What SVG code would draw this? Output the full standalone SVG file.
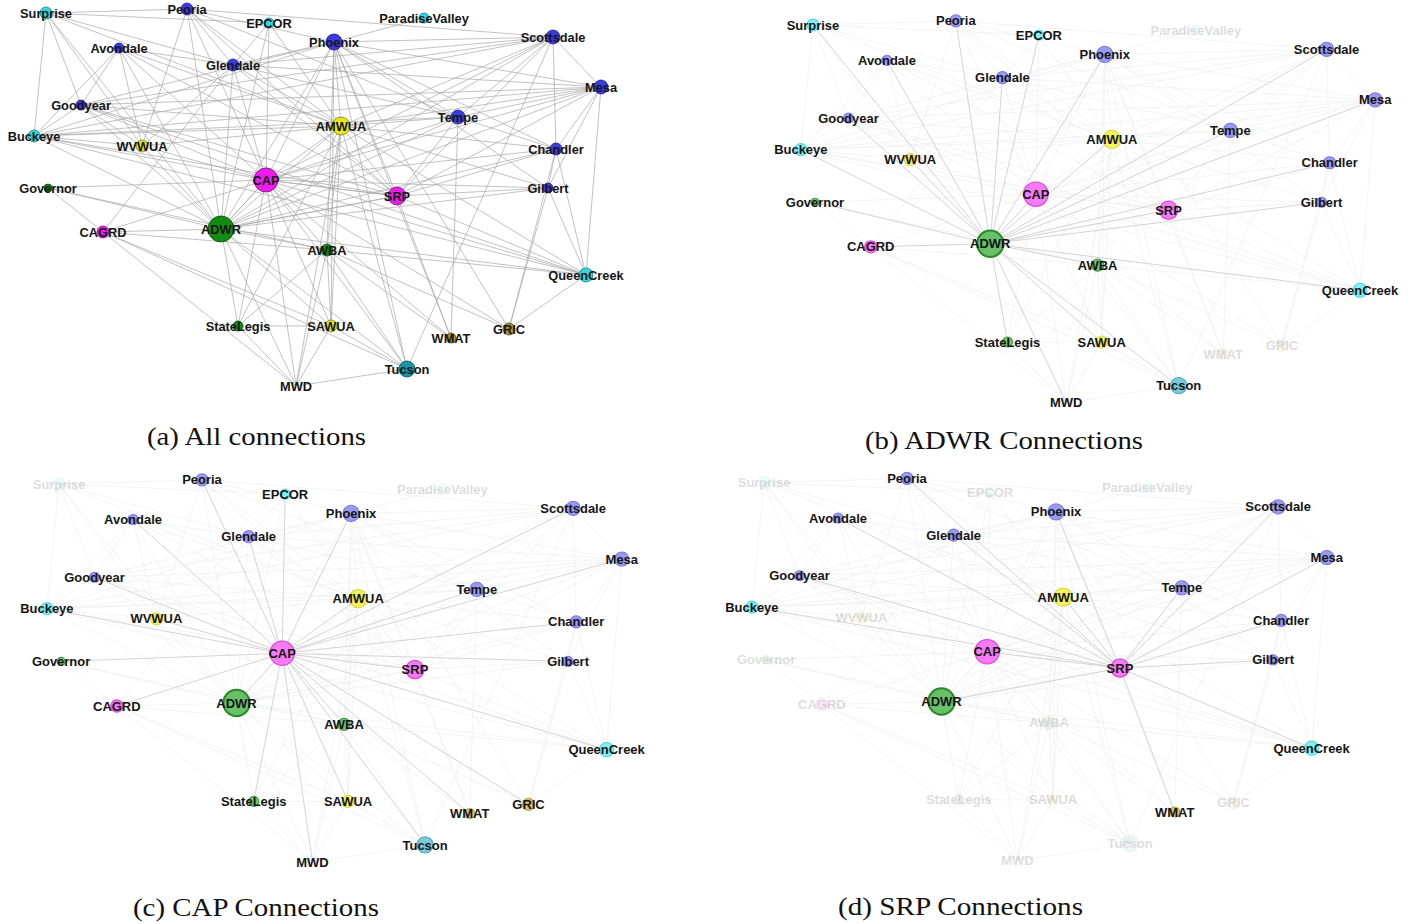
<svg xmlns="http://www.w3.org/2000/svg" xmlns:xlink="http://www.w3.org/1999/xlink" width="1411" height="924" viewBox="0 0 1411 924">
<style>
.lbl{font-family:"Liberation Sans",Arial,sans-serif;font-weight:bold;font-size:12.8px;text-anchor:middle;fill:#151515}
.capt{font-family:"Liberation Serif","Times New Roman",serif;font-size:25px;fill:#111}
.a-cy{fill:#2fd6df;stroke:#167c84;stroke-width:0.8}
.a-bl{fill:#3b3be0;stroke:#1e1e88;stroke-width:0.8}
.a-ye{fill:#e6e617;stroke:#7e7e10;stroke-width:0.8}
.a-mg{fill:#ec1cec;stroke:#7e107e;stroke-width:0.8}
.a-gr{fill:#128c12;stroke:#0a4a0a;stroke-width:0.8}
.a-ol{fill:#a8902e;stroke:#5a4a10;stroke-width:0.8}
.a-te{fill:#1897a8;stroke:#0b5560;stroke-width:0.8}
.p-cy{fill:#80eff3;stroke:#4fd6de;stroke-width:1}
.p-bl{fill:#9a9af2;stroke:#7777de;stroke-width:1}
.p-ye{fill:#f2f25a;stroke:#d6d640;stroke-width:1}
.p-mg{fill:#f57cf5;stroke:#e044e0;stroke-width:1.2}
.p-gr{fill:#72c472;stroke:#3a9a3a;stroke-width:1}
.p-ol{fill:#d8c070;stroke:#b8a050;stroke-width:1}
.p-te{fill:#7ccad8;stroke:#4aa8b8;stroke-width:1}
.p-gr-big{fill:#68c068;stroke:#2a8a2a;stroke-width:2}
.fd{opacity:0.14}
.e-all{stroke:#a8a8a8;stroke-width:0.7}
.e-faint{stroke:#f0f0f0;stroke-width:0.7}
.e-hi{stroke:#d0d0d0;stroke-width:0.9}
</style>
<defs>
<path id="e-other" fill="none" d="M46 13L187 9M46 13L269 23M46 13L34 136M46 13L142 146M46 13L341 126M46 13L233 65M46 13L81 105M187 9L233 65M187 9L334 42M187 9L341 126M187 9L142 146M187 9L458 117M187 9L553 37M119 48L81 105M119 48L34 136M119 48L142 146M119 48L341 126M119 48L233 65M233 65L269 23M233 65L334 42M233 65L341 126M233 65L142 146M233 65L553 37M233 65L458 117M233 65L601 87M334 42L424 18M334 42L553 37M334 42L601 87M334 42L458 117M334 42L341 126M334 42L556 149M334 42L548 188M334 42L327 250M334 42L331 326M334 42L407 369M334 42L81 105M334 42L34 136M334 42L509 329M334 42L451 338M553 37L601 87M553 37L458 117M553 37L341 126M553 37L556 149M553 37L407 369M553 37L81 105M553 37L34 136M601 87L458 117M601 87L556 149M601 87L548 188M601 87L586 275M601 87L341 126M601 87L34 136M601 87L81 105M458 117L556 149M458 117L341 126M458 117L451 338M458 117L34 136M556 149L548 188M556 149L586 275M556 149L509 329M556 149L341 126M548 188L586 275M548 188L509 329M548 188L341 126M586 275L509 329M586 275L327 250M586 275L341 126M586 275L81 105M586 275L34 136M34 136L142 146M34 136L81 105M34 136L341 126M81 105L341 126M81 105L142 146M142 146L341 126M48 188L103 232M48 188L327 250M103 232L327 250M103 232L407 369M103 232L331 326M103 232L296 386M103 232L233 65M327 250L331 326M327 250L407 369M327 250L296 386M327 250L509 329M327 250L238 326M327 250L451 338M327 250L341 126M238 326L331 326M238 326L296 386M238 326L341 126M331 326L407 369M331 326L296 386M331 326L341 126M296 386L407 369M296 386L341 126M407 369L341 126M269 23L341 126"/>
<path id="e-adwr" fill="none" d="M221 229L46 13M221 229L187 9M221 229L269 23M221 229L119 48M221 229L233 65M221 229L334 42M221 229L553 37M221 229L601 87M221 229L81 105M221 229L34 136M221 229L142 146M221 229L341 126M221 229L458 117M221 229L556 149M221 229L266 180M221 229L48 188M221 229L397 196M221 229L548 188M221 229L103 232M221 229L327 250M221 229L586 275M221 229L238 326M221 229L331 326M221 229L296 386M221 229L407 369"/>
<path id="e-cap" fill="none" d="M266 180L187 9M266 180L269 23M266 180L334 42M266 180L553 37M266 180L119 48M266 180L233 65M266 180L601 87M266 180L81 105M266 180L341 126M266 180L458 117M266 180L34 136M266 180L142 146M266 180L556 149M266 180L48 188M266 180L397 196M266 180L548 188M266 180L103 232M266 180L327 250M266 180L586 275M266 180L238 326M266 180L331 326M266 180L451 338M266 180L509 329M266 180L296 386M266 180L407 369M266 180L221 229"/>
<path id="e-srp" fill="none" d="M397 196L187 9M397 196L119 48M397 196L233 65M397 196L334 42M397 196L553 37M397 196L601 87M397 196L81 105M397 196L341 126M397 196L458 117M397 196L34 136M397 196L556 149M397 196L548 188M397 196L586 275M397 196L451 338M397 196L266 180M397 196L221 229"/>
</defs>
<rect width="1411" height="924" fill="#ffffff"/>

<!-- Panel (a) -->
<g id="panel-a">
<g id="a-connectors" class="e-all">
<use xlink:href="#e-other"/><use xlink:href="#e-adwr"/><use xlink:href="#e-cap"/><use xlink:href="#e-srp"/>
</g>
<g id="a-nodes">
<g id="a-Surprise"><circle class="a-cy" cx="46" cy="13" r="6"/><text class="lbl" x="46" y="17.5">Surprise</text></g>
<g id="a-Peoria"><circle class="a-bl" cx="187" cy="9" r="6"/><text class="lbl" x="187" y="13.5">Peoria</text></g>
<g id="a-EPCOR"><circle class="a-cy" cx="269" cy="23" r="5"/><text class="lbl" x="269" y="27.5">EPCOR</text></g>
<g id="a-Phoenix"><circle class="a-bl" cx="334" cy="42" r="8"/><text class="lbl" x="334" y="46.5">Phoenix</text></g>
<g id="a-ParadiseValley"><circle class="a-cy" cx="424" cy="18" r="5"/><text class="lbl" x="424" y="22.5">ParadiseValley</text></g>
<g id="a-Scottsdale"><circle class="a-bl" cx="553" cy="37" r="7"/><text class="lbl" x="553" y="41.5">Scottsdale</text></g>
<g id="a-Avondale"><circle class="a-bl" cx="119" cy="48" r="5"/><text class="lbl" x="119" y="52.5">Avondale</text></g>
<g id="a-Glendale"><circle class="a-bl" cx="233" cy="65" r="6"/><text class="lbl" x="233" y="69.5">Glendale</text></g>
<g id="a-Mesa"><circle class="a-bl" cx="601" cy="87" r="7"/><text class="lbl" x="601" y="91.5">Mesa</text></g>
<g id="a-Goodyear"><circle class="a-bl" cx="81" cy="105" r="5"/><text class="lbl" x="81" y="109.5">Goodyear</text></g>
<g id="a-AMWUA"><circle class="a-ye" cx="341" cy="126" r="9"/><text class="lbl" x="341" y="130.5">AMWUA</text></g>
<g id="a-Tempe"><circle class="a-bl" cx="458" cy="117" r="7"/><text class="lbl" x="458" y="121.5">Tempe</text></g>
<g id="a-Buckeye"><circle class="a-cy" cx="34" cy="136" r="6"/><text class="lbl" x="34" y="140.5">Buckeye</text></g>
<g id="a-WVWUA"><circle class="a-ye" cx="142" cy="146" r="6"/><text class="lbl" x="142" y="150.5">WVWUA</text></g>
<g id="a-Chandler"><circle class="a-bl" cx="556" cy="149" r="6"/><text class="lbl" x="556" y="153.5">Chandler</text></g>
<g id="a-CAP"><circle class="a-mg" cx="266" cy="180" r="12"/><text class="lbl" x="266" y="184.5">CAP</text></g>
<g id="a-Governor"><circle class="a-gr" cx="48" cy="188" r="4"/><text class="lbl" x="48" y="192.5">Governor</text></g>
<g id="a-SRP"><circle class="a-mg" cx="397" cy="196" r="9"/><text class="lbl" x="397" y="200.5">SRP</text></g>
<g id="a-Gilbert"><circle class="a-bl" cx="548" cy="188" r="5"/><text class="lbl" x="548" y="192.5">Gilbert</text></g>
<g id="a-CAGRD"><circle class="a-mg" cx="103" cy="232" r="6"/><text class="lbl" x="103" y="236.5">CAGRD</text></g>
<g id="a-ADWR"><circle class="a-gr" cx="221" cy="229" r="13"/><text class="lbl" x="221" y="233.5">ADWR</text></g>
<g id="a-AWBA"><circle class="a-gr" cx="327" cy="250" r="6"/><text class="lbl" x="327" y="254.5">AWBA</text></g>
<g id="a-QueenCreek"><circle class="a-cy" cx="586" cy="275" r="7"/><text class="lbl" x="586" y="279.5">QueenCreek</text></g>
<g id="a-StateLegis"><circle class="a-gr" cx="238" cy="326" r="5"/><text class="lbl" x="238" y="330.5">StateLegis</text></g>
<g id="a-SAWUA"><circle class="a-ye" cx="331" cy="326" r="6"/><text class="lbl" x="331" y="330.5">SAWUA</text></g>
<g id="a-WMAT"><circle class="a-ol" cx="451" cy="338" r="5"/><text class="lbl" x="451" y="342.5">WMAT</text></g>
<g id="a-GRIC"><circle class="a-ol" cx="509" cy="329" r="6"/><text class="lbl" x="509" y="333.5">GRIC</text></g>
<g id="a-MWD"><text class="lbl" x="296" y="390.5">MWD</text></g>
<g id="a-Tucson"><circle class="a-te" cx="407" cy="369" r="8"/><text class="lbl" x="407" y="373.5">Tucson</text></g>
</g>
</g>
<text id="caption-a" class="capt" x="147" y="445" textLength="219" lengthAdjust="spacingAndGlyphs">(a) All connections</text>

<!-- Panel (b) -->
<g id="panel-b" transform="translate(766.4,11.8) scale(1.013)">
<g id="b-connectors">
<g class="e-faint"><use xlink:href="#e-other"/><use xlink:href="#e-cap"/><use xlink:href="#e-srp"/></g>
<g class="e-hi"><use xlink:href="#e-adwr"/></g>
</g>
<g id="b-nodes">
<g id="b-Surprise"><circle class="p-cy" cx="46" cy="13" r="6"/><text class="lbl" x="46" y="17.5">Surprise</text></g>
<g id="b-Peoria"><circle class="p-bl" cx="187" cy="9" r="6"/><text class="lbl" x="187" y="13.5">Peoria</text></g>
<g id="b-EPCOR"><circle class="p-cy" cx="269" cy="23" r="5"/><text class="lbl" x="269" y="27.5">EPCOR</text></g>
<g id="b-Phoenix"><circle class="p-bl" cx="334" cy="42" r="8"/><text class="lbl" x="334" y="46.5">Phoenix</text></g>
<g id="b-ParadiseValley" class="fd"><circle class="p-cy" cx="424" cy="18" r="5"/><text class="lbl" x="424" y="22.5">ParadiseValley</text></g>
<g id="b-Scottsdale"><circle class="p-bl" cx="553" cy="37" r="7"/><text class="lbl" x="553" y="41.5">Scottsdale</text></g>
<g id="b-Avondale"><circle class="p-bl" cx="119" cy="48" r="5"/><text class="lbl" x="119" y="52.5">Avondale</text></g>
<g id="b-Glendale"><circle class="p-bl" cx="233" cy="65" r="6"/><text class="lbl" x="233" y="69.5">Glendale</text></g>
<g id="b-Mesa"><circle class="p-bl" cx="601" cy="87" r="7"/><text class="lbl" x="601" y="91.5">Mesa</text></g>
<g id="b-Goodyear"><circle class="p-bl" cx="81" cy="105" r="5"/><text class="lbl" x="81" y="109.5">Goodyear</text></g>
<g id="b-AMWUA"><circle class="p-ye" cx="341" cy="126" r="9"/><text class="lbl" x="341" y="130.5">AMWUA</text></g>
<g id="b-Tempe"><circle class="p-bl" cx="458" cy="117" r="7"/><text class="lbl" x="458" y="121.5">Tempe</text></g>
<g id="b-Buckeye"><circle class="p-cy" cx="34" cy="136" r="6"/><text class="lbl" x="34" y="140.5">Buckeye</text></g>
<g id="b-WVWUA"><circle class="p-ye" cx="142" cy="146" r="6"/><text class="lbl" x="142" y="150.5">WVWUA</text></g>
<g id="b-Chandler"><circle class="p-bl" cx="556" cy="149" r="6"/><text class="lbl" x="556" y="153.5">Chandler</text></g>
<g id="b-CAP"><circle class="p-mg" cx="266" cy="180" r="12"/><text class="lbl" x="266" y="184.5">CAP</text></g>
<g id="b-Governor"><circle class="p-gr" cx="48" cy="188" r="4"/><text class="lbl" x="48" y="192.5">Governor</text></g>
<g id="b-SRP"><circle class="p-mg" cx="397" cy="196" r="9"/><text class="lbl" x="397" y="200.5">SRP</text></g>
<g id="b-Gilbert"><circle class="p-bl" cx="548" cy="188" r="5"/><text class="lbl" x="548" y="192.5">Gilbert</text></g>
<g id="b-CAGRD"><circle class="p-mg" cx="103" cy="232" r="6"/><text class="lbl" x="103" y="236.5">CAGRD</text></g>
<g id="b-ADWR"><circle class="p-gr-big" cx="221" cy="229" r="13"/><text class="lbl" x="221" y="233.5">ADWR</text></g>
<g id="b-AWBA"><circle class="p-gr" cx="327" cy="250" r="6"/><text class="lbl" x="327" y="254.5">AWBA</text></g>
<g id="b-QueenCreek"><circle class="p-cy" cx="586" cy="275" r="7"/><text class="lbl" x="586" y="279.5">QueenCreek</text></g>
<g id="b-StateLegis"><circle class="p-gr" cx="238" cy="326" r="5"/><text class="lbl" x="238" y="330.5">StateLegis</text></g>
<g id="b-SAWUA"><circle class="p-ye" cx="331" cy="326" r="6"/><text class="lbl" x="331" y="330.5">SAWUA</text></g>
<g id="b-WMAT" class="fd"><circle class="p-ol" cx="451" cy="338" r="5"/><text class="lbl" x="451" y="342.5">WMAT</text></g>
<g id="b-GRIC" class="fd"><circle class="p-ol" cx="509" cy="329" r="6"/><text class="lbl" x="509" y="333.5">GRIC</text></g>
<g id="b-MWD"><text class="lbl" x="296" y="390.5">MWD</text></g>
<g id="b-Tucson"><circle class="p-te" cx="407" cy="369" r="8"/><text class="lbl" x="407" y="373.5">Tucson</text></g>
</g>
</g>
<text id="caption-b" class="capt" x="865" y="449" textLength="278" lengthAdjust="spacingAndGlyphs">(b) ADWR Connections</text>

<!-- Panel (c) -->
<g id="panel-c" transform="translate(12.4,470.8) scale(1.014)">
<g id="c-connectors">
<g class="e-faint"><use xlink:href="#e-other"/><use xlink:href="#e-adwr"/><use xlink:href="#e-srp"/></g>
<g class="e-hi"><use xlink:href="#e-cap"/></g>
</g>
<g id="c-nodes">
<g id="c-Surprise" class="fd"><circle class="p-cy" cx="46" cy="13" r="6"/><text class="lbl" x="46" y="17.5">Surprise</text></g>
<g id="c-Peoria"><circle class="p-bl" cx="187" cy="9" r="6"/><text class="lbl" x="187" y="13.5">Peoria</text></g>
<g id="c-EPCOR"><circle class="p-cy" cx="269" cy="23" r="5"/><text class="lbl" x="269" y="27.5">EPCOR</text></g>
<g id="c-Phoenix"><circle class="p-bl" cx="334" cy="42" r="8"/><text class="lbl" x="334" y="46.5">Phoenix</text></g>
<g id="c-ParadiseValley" class="fd"><circle class="p-cy" cx="424" cy="18" r="5"/><text class="lbl" x="424" y="22.5">ParadiseValley</text></g>
<g id="c-Scottsdale"><circle class="p-bl" cx="553" cy="37" r="7"/><text class="lbl" x="553" y="41.5">Scottsdale</text></g>
<g id="c-Avondale"><circle class="p-bl" cx="119" cy="48" r="5"/><text class="lbl" x="119" y="52.5">Avondale</text></g>
<g id="c-Glendale"><circle class="p-bl" cx="233" cy="65" r="6"/><text class="lbl" x="233" y="69.5">Glendale</text></g>
<g id="c-Mesa"><circle class="p-bl" cx="601" cy="87" r="7"/><text class="lbl" x="601" y="91.5">Mesa</text></g>
<g id="c-Goodyear"><circle class="p-bl" cx="81" cy="105" r="5"/><text class="lbl" x="81" y="109.5">Goodyear</text></g>
<g id="c-AMWUA"><circle class="p-ye" cx="341" cy="126" r="9"/><text class="lbl" x="341" y="130.5">AMWUA</text></g>
<g id="c-Tempe"><circle class="p-bl" cx="458" cy="117" r="7"/><text class="lbl" x="458" y="121.5">Tempe</text></g>
<g id="c-Buckeye"><circle class="p-cy" cx="34" cy="136" r="6"/><text class="lbl" x="34" y="140.5">Buckeye</text></g>
<g id="c-WVWUA"><circle class="p-ye" cx="142" cy="146" r="6"/><text class="lbl" x="142" y="150.5">WVWUA</text></g>
<g id="c-Chandler"><circle class="p-bl" cx="556" cy="149" r="6"/><text class="lbl" x="556" y="153.5">Chandler</text></g>
<g id="c-CAP"><circle class="p-mg" cx="266" cy="180" r="12"/><text class="lbl" x="266" y="184.5">CAP</text></g>
<g id="c-Governor"><circle class="p-gr" cx="48" cy="188" r="4"/><text class="lbl" x="48" y="192.5">Governor</text></g>
<g id="c-SRP"><circle class="p-mg" cx="397" cy="196" r="9"/><text class="lbl" x="397" y="200.5">SRP</text></g>
<g id="c-Gilbert"><circle class="p-bl" cx="548" cy="188" r="5"/><text class="lbl" x="548" y="192.5">Gilbert</text></g>
<g id="c-CAGRD"><circle class="p-mg" cx="103" cy="232" r="6"/><text class="lbl" x="103" y="236.5">CAGRD</text></g>
<g id="c-ADWR"><circle class="p-gr-big" cx="221" cy="229" r="13"/><text class="lbl" x="221" y="233.5">ADWR</text></g>
<g id="c-AWBA"><circle class="p-gr" cx="327" cy="250" r="6"/><text class="lbl" x="327" y="254.5">AWBA</text></g>
<g id="c-QueenCreek"><circle class="p-cy" cx="586" cy="275" r="7"/><text class="lbl" x="586" y="279.5">QueenCreek</text></g>
<g id="c-StateLegis"><circle class="p-gr" cx="238" cy="326" r="5"/><text class="lbl" x="238" y="330.5">StateLegis</text></g>
<g id="c-SAWUA"><circle class="p-ye" cx="331" cy="326" r="6"/><text class="lbl" x="331" y="330.5">SAWUA</text></g>
<g id="c-WMAT"><circle class="p-ol" cx="451" cy="338" r="5"/><text class="lbl" x="451" y="342.5">WMAT</text></g>
<g id="c-GRIC"><circle class="p-ol" cx="509" cy="329" r="6"/><text class="lbl" x="509" y="333.5">GRIC</text></g>
<g id="c-MWD"><text class="lbl" x="296" y="390.5">MWD</text></g>
<g id="c-Tucson"><circle class="p-te" cx="407" cy="369" r="8"/><text class="lbl" x="407" y="373.5">Tucson</text></g>
</g>
</g>
<text id="caption-c" class="capt" x="133" y="916" textLength="246" lengthAdjust="spacingAndGlyphs">(c) CAP Connections</text>

<!-- Panel (d) -->
<g id="panel-d" transform="translate(717.4,469.3) scale(1.014)">
<g id="d-connectors">
<g class="e-faint"><use xlink:href="#e-other"/><use xlink:href="#e-adwr"/><use xlink:href="#e-cap"/></g>
<g class="e-hi"><use xlink:href="#e-srp"/></g>
</g>
<g id="d-nodes">
<g id="d-Surprise" class="fd"><circle class="p-cy" cx="46" cy="13" r="6"/><text class="lbl" x="46" y="17.5">Surprise</text></g>
<g id="d-Peoria"><circle class="p-bl" cx="187" cy="9" r="6"/><text class="lbl" x="187" y="13.5">Peoria</text></g>
<g id="d-EPCOR" class="fd"><circle class="p-cy" cx="269" cy="23" r="5"/><text class="lbl" x="269" y="27.5">EPCOR</text></g>
<g id="d-Phoenix"><circle class="p-bl" cx="334" cy="42" r="8"/><text class="lbl" x="334" y="46.5">Phoenix</text></g>
<g id="d-ParadiseValley" class="fd"><circle class="p-cy" cx="424" cy="18" r="5"/><text class="lbl" x="424" y="22.5">ParadiseValley</text></g>
<g id="d-Scottsdale"><circle class="p-bl" cx="553" cy="37" r="7"/><text class="lbl" x="553" y="41.5">Scottsdale</text></g>
<g id="d-Avondale"><circle class="p-bl" cx="119" cy="48" r="5"/><text class="lbl" x="119" y="52.5">Avondale</text></g>
<g id="d-Glendale"><circle class="p-bl" cx="233" cy="65" r="6"/><text class="lbl" x="233" y="69.5">Glendale</text></g>
<g id="d-Mesa"><circle class="p-bl" cx="601" cy="87" r="7"/><text class="lbl" x="601" y="91.5">Mesa</text></g>
<g id="d-Goodyear"><circle class="p-bl" cx="81" cy="105" r="5"/><text class="lbl" x="81" y="109.5">Goodyear</text></g>
<g id="d-AMWUA"><circle class="p-ye" cx="341" cy="126" r="9"/><text class="lbl" x="341" y="130.5">AMWUA</text></g>
<g id="d-Tempe"><circle class="p-bl" cx="458" cy="117" r="7"/><text class="lbl" x="458" y="121.5">Tempe</text></g>
<g id="d-Buckeye"><circle class="p-cy" cx="34" cy="136" r="6"/><text class="lbl" x="34" y="140.5">Buckeye</text></g>
<g id="d-WVWUA" class="fd"><circle class="p-ye" cx="142" cy="146" r="6"/><text class="lbl" x="142" y="150.5">WVWUA</text></g>
<g id="d-Chandler"><circle class="p-bl" cx="556" cy="149" r="6"/><text class="lbl" x="556" y="153.5">Chandler</text></g>
<g id="d-CAP"><circle class="p-mg" cx="266" cy="180" r="12"/><text class="lbl" x="266" y="184.5">CAP</text></g>
<g id="d-Governor" class="fd"><circle class="p-gr" cx="48" cy="188" r="4"/><text class="lbl" x="48" y="192.5">Governor</text></g>
<g id="d-SRP"><circle class="p-mg" cx="397" cy="196" r="9"/><text class="lbl" x="397" y="200.5">SRP</text></g>
<g id="d-Gilbert"><circle class="p-bl" cx="548" cy="188" r="5"/><text class="lbl" x="548" y="192.5">Gilbert</text></g>
<g id="d-CAGRD" class="fd"><circle class="p-mg" cx="103" cy="232" r="6"/><text class="lbl" x="103" y="236.5">CAGRD</text></g>
<g id="d-ADWR"><circle class="p-gr-big" cx="221" cy="229" r="13"/><text class="lbl" x="221" y="233.5">ADWR</text></g>
<g id="d-AWBA" class="fd"><circle class="p-gr" cx="327" cy="250" r="6"/><text class="lbl" x="327" y="254.5">AWBA</text></g>
<g id="d-QueenCreek"><circle class="p-cy" cx="586" cy="275" r="7"/><text class="lbl" x="586" y="279.5">QueenCreek</text></g>
<g id="d-StateLegis" class="fd"><circle class="p-gr" cx="238" cy="326" r="5"/><text class="lbl" x="238" y="330.5">StateLegis</text></g>
<g id="d-SAWUA" class="fd"><circle class="p-ye" cx="331" cy="326" r="6"/><text class="lbl" x="331" y="330.5">SAWUA</text></g>
<g id="d-WMAT"><circle class="p-ol" cx="451" cy="338" r="5"/><text class="lbl" x="451" y="342.5">WMAT</text></g>
<g id="d-GRIC" class="fd"><circle class="p-ol" cx="509" cy="329" r="6"/><text class="lbl" x="509" y="333.5">GRIC</text></g>
<g id="d-MWD" class="fd"><text class="lbl" x="296" y="390.5">MWD</text></g>
<g id="d-Tucson" class="fd"><circle class="p-te" cx="407" cy="369" r="8"/><text class="lbl" x="407" y="373.5">Tucson</text></g>
</g>
</g>
<text id="caption-d" class="capt" x="838" y="915" textLength="245" lengthAdjust="spacingAndGlyphs">(d) SRP Connections</text>
</svg>
